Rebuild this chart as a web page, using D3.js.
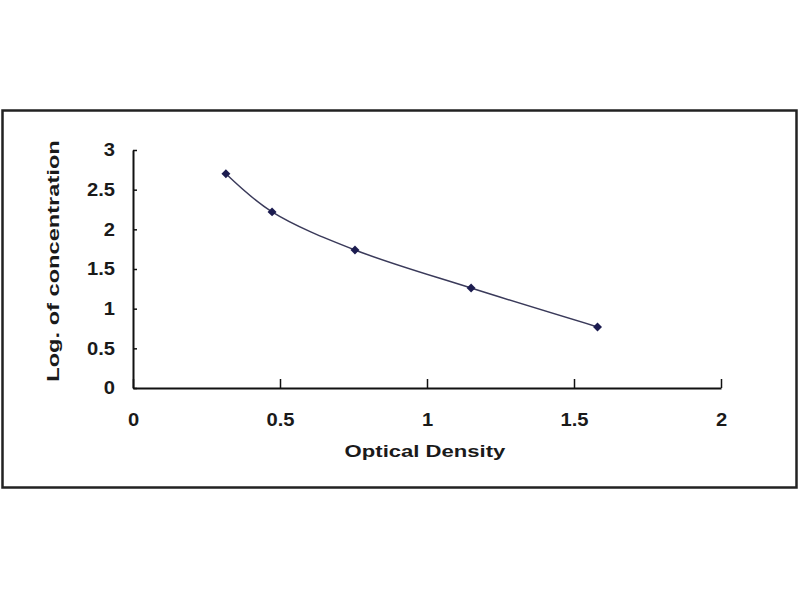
<!DOCTYPE html>
<html>
<head>
<meta charset="utf-8">
<script src="https://cdn.jsdelivr.net/npm/d3@7"></script>
<style>
html,body{margin:0;padding:0;background:#fff;}
svg{display:block;}
text{font-family:"Liberation Sans",Arial,sans-serif;font-weight:bold;fill:#1a1a1a;}
</style>
</head>
<body>
<svg id="chart" width="800" height="600"></svg>
<script>
const odValues = [0.316, 0.473, 0.755, 1.15, 1.58];
const logConc = [2.70, 2.22, 1.74, 1.26, 0.77];
const xTicks = [0, 0.5, 1, 1.5, 2];
const yTicks = [0, 0.5, 1, 1.5, 2, 2.5, 3];
const xTitle = "Optical Density";
const yTitle = "Log. of concentration";

const svg = d3.select("#chart");
svg.append("rect").attr("x",0).attr("y",0).attr("width",800).attr("height",600).attr("fill","#fff");

// outer frame
svg.append("rect").attr("x",2.5).attr("y",110.5).attr("width",794).attr("height",377)
  .attr("fill","none").attr("stroke","#222").attr("stroke-width",2.5);

const x = d3.scaleLinear().domain([0,2]).range([133,721]);
const y = d3.scaleLinear().domain([0,3]).range([388,150]);
const tickScale = 1.12;

// axes
const xAxis = d3.axisBottom(x).tickValues(xTicks).tickSizeInner(-9).tickSizeOuter(0).tickFormat(d3.format("~g"));
const gx = svg.append("g").attr("transform","translate(0,388)").call(xAxis);
gx.select(".domain").attr("stroke","#111").attr("stroke-width",2);
gx.selectAll(".tick line").attr("stroke","#111").attr("stroke-width",1.5);
gx.selectAll(".tick text").attr("y",25).attr("dy","0.71em").style("font-size","18px")
  .attr("transform",`scale(${tickScale},1)`).attr("fill","#1a1a1a").attr("text-anchor","middle");

const yAxis = d3.axisLeft(y).tickValues(yTicks).tickSizeInner(-4).tickSizeOuter(0).tickFormat(d3.format("~g"));
const gy = svg.append("g").attr("transform","translate(133,0)").call(yAxis);
gy.select(".domain").attr("stroke","#111").attr("stroke-width",2);
gy.selectAll(".tick line").attr("stroke","#111").attr("stroke-width",1.5);
gy.selectAll(".tick text").attr("x",-18/tickScale).style("font-size","18px")
  .attr("transform",`scale(${tickScale},1)`).attr("fill","#1a1a1a");

// curve
const pts = odValues.map((d,i)=>[d, logConc[i]]);
const line = d3.line().x(d=>x(d[0])).y(d=>y(d[1])).curve(d3.curveCatmullRom.alpha(0.5));
svg.append("path").datum(pts).attr("d",line).attr("fill","none").attr("stroke","#3a3a5a").attr("stroke-width",1.5);

// markers
svg.selectAll("path.pt").data(pts).enter().append("path").attr("class","pt")
  .attr("d", d3.symbol().type(d3.symbolSquare).size(40))
  .attr("transform", d=>`translate(${x(d[0])},${y(d[1])}) rotate(45)`)
  .attr("fill","#1c1c50");

// titles
svg.append("g").attr("transform","translate(425,451) scale(1.3,1)")
  .append("text").attr("text-anchor","middle").attr("dy","0.35em")
  .style("font-size","17px").text(xTitle);
svg.append("g").attr("transform","translate(53,261) rotate(-90) scale(1.39,1)")
  .append("text").attr("text-anchor","middle").attr("dy","0.35em")
  .style("font-size","17px").text(yTitle);
</script>
</body>
</html>
